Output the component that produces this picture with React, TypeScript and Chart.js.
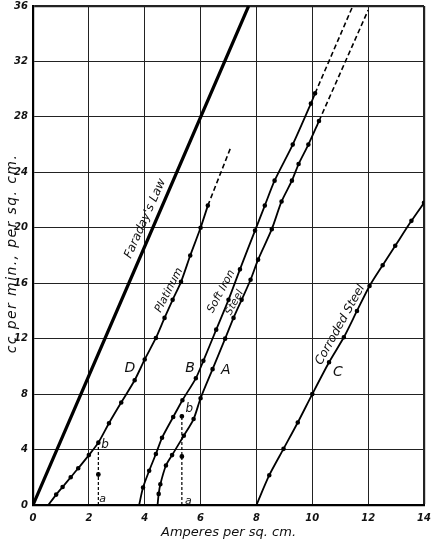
import React, { useEffect, useRef } from "react";
import { Chart, registerables } from "chart.js";

Chart.register(...registerables);

// ---- tick labels ----
const xTicks = [0, 2, 4, 6, 8, 10, 12, 14];
const yTicks = [0, 4, 8, 12, 16, 20, 24, 28, 32, 36];

// ---- series values (Amperes per sq. cm. -> cc per min. per sq. cm.) ----
const faradayX = [0, 7.72];
const faradayY = [0, 36];

const platinumX = [0.55, 0.83, 1.06, 1.35, 1.62, 2.0, 2.34, 2.72, 3.16, 3.64, 4.0, 4.4, 4.71, 5.0, 5.3, 5.63, 6.0, 6.26];
const platinumY = [0, 0.75, 1.3, 2.0, 2.65, 3.6, 4.5, 5.9, 7.4, 9.0, 10.5, 12.05, 13.5, 14.8, 16.1, 18.0, 20.0, 21.6];
const platinumDashX = [6.26, 7.08];
const platinumDashY = [21.6, 25.8];

const softIronX = [3.8, 3.94, 4.16, 4.4, 4.62, 5.02, 5.35, 5.83, 6.1, 6.56, 7.0, 7.41, 7.95, 8.3, 8.65, 9.3, 9.95, 10.1];
const softIronY = [0, 1.26, 2.47, 3.68, 4.85, 6.35, 7.56, 9.14, 10.4, 12.65, 14.8, 17.0, 19.8, 21.6, 23.4, 26.0, 28.96, 29.7];
const softIronDashX = [10.1, 11.45];
const softIronDashY = [29.7, 36];

const steelX = [4.46, 4.5, 4.56, 4.76, 4.98, 5.4, 5.75, 6.0, 6.43, 6.88, 7.18, 7.47, 7.79, 8.06, 8.55, 8.9, 9.27, 9.51, 9.86, 10.24];
const steelY = [0, 0.8, 1.5, 2.85, 3.6, 5.0, 6.2, 7.7, 9.8, 12.0, 13.5, 14.8, 16.25, 17.7, 19.9, 21.9, 23.4, 24.6, 26.0, 27.7];
const steelDashX = [10.24, 12.0];
const steelDashY = [27.7, 35.7];

const corrodedX = [8.0, 8.46, 8.97, 9.48, 10.0, 10.6, 11.13, 11.6, 12.05, 12.52, 12.97, 13.55, 14.0];
const corrodedY = [0, 2.15, 4.05, 5.95, 8.0, 10.3, 12.1, 14.0, 15.8, 17.3, 18.7, 20.5, 21.8];

const markPlatX = [2.34, 2.34, 2.34];
const markPlatY = [0, 2.2, 4.4];
const markSteelX = [5.33, 5.33, 5.33];
const markSteelY = [0, 3.5, 6.4];

const zip = (xs: number[], ys: number[]) => xs.map((x, i) => ({ x, y: ys[i] }));

const FONT = "'DejaVu Sans', sans-serif";
const Y_TITLE = "cc per min., per sq. cm.";

const annotations = [
  { text: "Faraday's Law", x: 4.02, y: 20.66, angle: -66, size: 12 },
  { text: "Platinum", x: 4.87, y: 15.5, angle: -63, size: 11 },
  { text: "Soft Iron", x: 6.74, y: 15.4, angle: -62, size: 11 },
  { text: "Steel", x: 7.22, y: 14.6, angle: -62, size: 10.5 },
  { text: "Corroded Steel", x: 11.0, y: 13.0, angle: -61, size: 12 },
  { text: "D", x: 3.47, y: 9.86, angle: 0, size: 14 },
  { text: "B", x: 5.62, y: 9.86, angle: 0, size: 14 },
  { text: "A", x: 6.9, y: 9.74, angle: 0, size: 14 },
  { text: "C", x: 10.92, y: 9.6, angle: 0, size: 14 },
  { text: "a", x: 2.49, y: 0.4, angle: 0, size: 11 },
  { text: "b", x: 2.58, y: 4.33, angle: 0, size: 12 },
  { text: "a", x: 5.56, y: 0.3, angle: 0, size: 11 },
  { text: "b", x: 5.6, y: 6.9, angle: 0, size: 12 },
];

const labelPlugin = {
  id: "labels",
  afterDatasetsDraw(chart: any) {
    const { ctx, scales, chartArea } = chart;
    ctx.save();
    ctx.fillStyle = "#111";
    ctx.textAlign = "center";
    ctx.textBaseline = "middle";
    for (const a of annotations) {
      const px = scales.x.getPixelForValue(a.x);
      const py = scales.y.getPixelForValue(a.y);
      ctx.save();
      ctx.translate(px, py);
      ctx.rotate((a.angle * Math.PI) / 180);
      ctx.font = `italic ${a.size}px ${FONT}`;
      ctx.fillText(a.text, 0, 0);
      ctx.restore();
    }
    // y-axis title, slightly letter-spaced like the hand lettering
    ctx.save();
    ctx.translate(12, (chartArea.top + chartArea.bottom) / 2 - 2);
    ctx.rotate(-Math.PI / 2);
    ctx.font = `italic 14px ${FONT}`;
    (ctx as any).letterSpacing = "1.4px";
    ctx.fillText(Y_TITLE, 0, 0);
    ctx.restore();
    ctx.restore();
  },
};

const solid = (data: any[], width: number, markers: boolean) => ({
  data,
  showLine: true,
  borderColor: "#000",
  backgroundColor: "#000",
  borderWidth: width,
  tension: 0.25,
  pointRadius: markers ? (c: any) => (c.dataIndex === 0 ? 0 : 1.4) : 0,
  pointHoverRadius: 0,
});

const dashed = (data: any[], width: number, dash: number[], radius: number[]) => ({
  data,
  showLine: true,
  borderColor: "#000",
  backgroundColor: "#000",
  borderWidth: width,
  borderDash: dash,
  tension: 0,
  pointRadius: radius,
  pointHoverRadius: 0,
});

export default function App() {
  const ref = useRef<HTMLCanvasElement | null>(null);

  useEffect(() => {
    if (!ref.current) return;
    const chart = new Chart(ref.current, {
      type: "scatter",
      data: {
        datasets: [
          solid(zip(faradayX, faradayY), 3.2, false),
          solid(zip(platinumX, platinumY), 1.8, true),
          dashed(zip(platinumDashX, platinumDashY), 1.6, [5, 3], [0, 0]),
          solid(zip(softIronX, softIronY), 1.8, true),
          dashed(zip(softIronDashX, softIronDashY), 1.6, [5, 3], [0, 0]),
          solid(zip(steelX, steelY), 1.8, true),
          dashed(zip(steelDashX, steelDashY), 1.6, [5, 3], [0, 0]),
          solid(zip(corrodedX, corrodedY), 1.8, true),
          dashed(zip(markPlatX, markPlatY), 1.2, [3, 2], [0, 1.8, 0]),
          dashed(zip(markSteelX, markSteelY), 1.2, [3, 2], [0, 1.8, 1.8]),
        ] as any,
      },
      options: {
        animation: false,
        responsive: false,
        layout: { padding: { top: 6, right: 11, left: 0, bottom: 0 } },
        plugins: { legend: { display: false }, tooltip: { enabled: false } },
        scales: {
          x: {
            type: "linear",
            min: 0,
            max: 14,
            afterBuildTicks: (s: any) => {
              s.ticks = xTicks.map((v) => ({ value: v }));
            },
            afterFit: (s: any) => {
              s.height = 38;
              s.paddingLeft = 0;
              s.paddingRight = 0;
            },
            ticks: {
              padding: 7,
              color: "#111",
              font: { family: FONT, size: 10, style: "italic", weight: "bold" },
            },
            grid: {
              color: "#222",
              lineWidth: (c: any) => (c.tick && c.tick.value === 14 ? 2.2 : 1),
              drawTicks: false,
            },
            border: { display: true, color: "#000", width: 2.2 },
            title: {
              display: true,
              text: "Amperes per sq. cm.",
              color: "#111",
              padding: { top: 0, bottom: 3 },
              font: { family: FONT, size: 13, style: "italic" },
            },
          },
          y: {
            type: "linear",
            min: 0,
            max: 36,
            afterBuildTicks: (s: any) => {
              s.ticks = yTicks.map((v) => ({ value: v }));
            },
            afterFit: (s: any) => {
              s.width = 33;
              s.paddingTop = 0;
              s.paddingBottom = 0;
            },
            ticks: {
              padding: 5,
              color: "#111",
              font: { family: FONT, size: 10, style: "italic", weight: "bold" },
            },
            grid: {
              color: "#222",
              lineWidth: (c: any) => (c.tick && c.tick.value === 36 ? 2.2 : 1),
              drawTicks: false,
            },
            border: { display: true, color: "#000", width: 2.2 },
            title: { display: false },
          },
        },
      } as any,
      plugins: [labelPlugin],
    });
    return () => chart.destroy();
  }, []);

  return (
    <div style={{ position: "fixed", left: 0, top: 0, width: 435, height: 543, background: "#fff" }}>
      <canvas ref={ref} width={435} height={543} style={{ display: "block" }} />
    </div>
  );
}
